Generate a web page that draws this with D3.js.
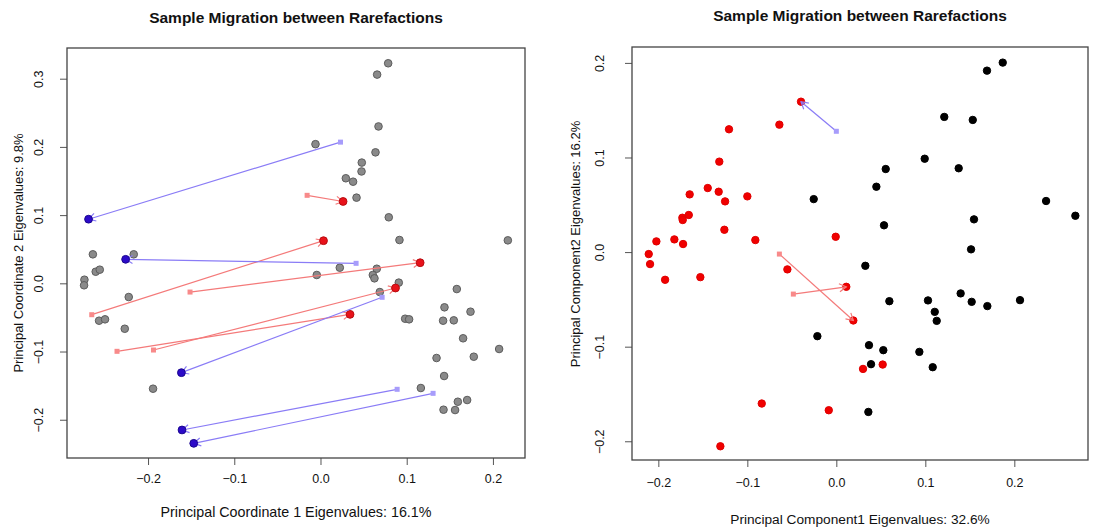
<!DOCTYPE html>
<html>
<head>
<meta charset="utf-8">
<script src="https://cdn.jsdelivr.net/npm/d3@7"></script>
<style>
  body { margin: 0; background: #fff; }
  svg text { font-family: "Liberation Sans", Arial, Helvetica, sans-serif; fill: #111; }
</style>
</head>
<body>
<div id="chart"></div>
<script>
// Left panel: PCoA (gray samples, red / blue migration arrows)
var pcoaGrayX = [-0.0058, -0.264, -0.2166, 0.0785, 0.0657, 0.0673, 0.0638, 0.0479, 0.0476, 0.0294,
  0.0378, 0.0418, 0.0792, 0.0916, 0.2173, -0.2607, -0.256, -0.2738, -0.2742, -0.2224,
  -0.0043, -0.2568, -0.2499, -0.227, -0.1942, 0.0224, 0.0653, 0.0607, 0.0626, 0.0908,
  0.0688, 0.1581, 0.1438, 0.174, 0.0982, 0.1028, 0.1422, 0.1546, 0.1654, 0.2072,
  0.1346, 0.1778, 0.1434, 0.1164, 0.1701, 0.1593, 0.1427, 0.1561];
var pcoaGrayY = [0.204, 0.0425, 0.0425, 0.3226, 0.306, 0.230, 0.192, 0.177, 0.164, 0.154,
  0.149, 0.1256, 0.0968, 0.0635, 0.063, 0.017, 0.020, 0.0053, -0.0029, -0.0201,
  0.0122, -0.0548, -0.0528, -0.0666, -0.1545, 0.0229, 0.0214, 0.0122, 0.0073, 0.001,
  -0.0128, -0.0084, -0.0352, -0.0416, -0.0519, -0.0528, -0.0548, -0.0543, -0.0806, -0.0963,
  -0.1095, -0.1076, -0.1359, -0.1535, -0.1711, -0.1736, -0.1853, -0.1858];

var pcoaRedFromX = [-0.2653, -0.1513, -0.236, -0.1937, -0.0155];
var pcoaRedFromY = [-0.046, -0.0128, -0.0997, -0.0978, 0.129];
var pcoaRedToX = [0.0035, 0.1156, 0.0343, 0.087, 0.0262];
var pcoaRedToY = [0.0625, 0.0302, -0.0455, -0.0069, 0.120];

var pcoaBlueFromX = [0.0232, 0.0413, 0.0715, 0.0889, 0.1306];
var pcoaBlueFromY = [0.207, 0.0293, -0.0205, -0.1554, -0.1613];
var pcoaBlueToX = [-0.269, -0.226, -0.1613, -0.1606, -0.147];
var pcoaBlueToY = [0.094, 0.0352, -0.131, -0.215, -0.2346];

// Right panel: PCA (black / red samples, arrows)
var pcaBlackX = [0.187, 0.1693, 0.1213, 0.1533, 0.0993, 0.0555, 0.1375, 0.045, 0.2357, 0.2686,
  0.1547, 0.0536, 0.1514, 0.0326, 0.0596, 0.103, 0.1397, 0.1521, 0.1697, 0.2064,
  0.1106, 0.1128, 0.0367, 0.0528, 0.0933, 0.039, 0.1083, 0.036, -0.0254, -0.0213];
var pcaBlackY = [0.2003, 0.1918, 0.1429, 0.1397, 0.0987, 0.0878, 0.0886, 0.0691, 0.054, 0.0384,
  0.0346, 0.0283, 0.0029, -0.0145, -0.0519, -0.0511, -0.0437, -0.0526, -0.0571, -0.0508,
  -0.0632, -0.0727, -0.0984, -0.1037, -0.1055, -0.1185, -0.1217, -0.169, 0.056, -0.0889];

var pcaRedX = [-0.0397, -0.064, -0.1206, -0.1315, -0.1445, -0.1322, -0.1648, -0.125, -0.1, -0.1658,
  -0.173, -0.1726, -0.1258, -0.2022, -0.182, -0.1722, -0.091, -0.0007, -0.2108, -0.2093,
  -0.1924, -0.1528, -0.055, 0.0191, 0.0112, -0.0838, -0.0085, -0.1303, 0.0521, 0.03];
var pcaRedY = [0.159, 0.1347, 0.1298, 0.0956, 0.0677, 0.0638, 0.061, 0.0536, 0.0589, 0.0392,
  0.0363, 0.0339, 0.0236, 0.0113, 0.0134, 0.0085, 0.0127, 0.0162, -0.0021, -0.0127,
  -0.0293, -0.0265, -0.0183, -0.0723, -0.0367, -0.1601, -0.1672, -0.2053, -0.1189, -0.1235];

var pcaRedFromX = [-0.064, -0.0483];
var pcaRedFromY = [-0.0021, -0.0444];
var pcaRedToX = [0.0191, 0.0112];
var pcaRedToY = [-0.0723, -0.0367];

var pcaBlueFromX = [0.0];
var pcaBlueFromY = [0.1277];
var pcaBlueToX = [-0.0397];
var pcaBlueToY = [0.159];

var TICKS_X = [-0.2, -0.1, 0.0, 0.1, 0.2];
var TICKS_Y_LEFT = [-0.2, -0.1, 0.0, 0.1, 0.2, 0.3];
var TICKS_Y_RIGHT = [-0.2, -0.1, 0.0, 0.1, 0.2];

var TITLE = "Sample Migration between Rarefactions";

var svg = d3.select("#chart").append("svg")
  .attr("width", 1097)
  .attr("height", 527);

function zipPts(xs, ys) {
  return xs.map(function (x, i) { return { x: x, y: ys[i] }; });
}
function zipArrows(fx, fy, tx, ty) {
  return fx.map(function (x, i) { return { x0: x, y0: fy[i], x1: tx[i], y1: ty[i] }; });
}

// Draws one panel: box, axes, labels and the marks
function drawPanel(cfg) {
  var x = d3.scaleLinear().domain(cfg.xDomain).range([cfg.left, cfg.right]);
  var y = d3.scaleLinear().domain(cfg.yDomain).range([cfg.bottom, cfg.top]);
  var g = svg.append("g");

  // title
  g.append("text")
    .attr("x", (cfg.left + cfg.right) / 2)
    .attr("y", cfg.titleY)
    .attr("text-anchor", "middle")
    .style("font-size", "15.5px")
    .style("font-weight", "bold")
    .text(TITLE);

  // bottom axis
  var xAxis = d3.axisBottom(x).tickValues(TICKS_X).tickSize(7).tickPadding(9)
    .tickFormat(d3.format(".1f"));
  var gx = g.append("g").attr("transform", "translate(0," + cfg.bottom + ")").call(xAxis);
  gx.select(".domain").remove();
  gx.selectAll("line").attr("stroke", "#555");
  gx.selectAll("text").style("font-size", "12.5px").attr("fill", "#222")
    .attr("transform", "translate(0," + cfg.xTickShift + ")");

  // left axis, labels rotated like base R graphics
  var yAxis = d3.axisLeft(y).tickValues(cfg.yTicks).tickSize(7).tickFormat(d3.format(".1f"));
  var gy = g.append("g").attr("transform", "translate(" + cfg.left + ",0)").call(yAxis);
  gy.select(".domain").remove();
  gy.selectAll("line").attr("stroke", "#555");
  gy.selectAll("text")
    .style("font-size", "12.5px")
    .attr("fill", "#222")
    .attr("x", null).attr("dy", null)
    .attr("text-anchor", "middle")
    .attr("transform", "translate(" + (-cfg.left + cfg.yTickX) + ",0) rotate(-90)")
    .attr("y", 0);

  // axis titles
  g.append("text")
    .attr("x", (cfg.left + cfg.right) / 2)
    .attr("y", cfg.xLabelY)
    .attr("text-anchor", "middle")
    .style("font-size", cfg.xLabelSize)
    .text(cfg.xLabel);
  g.append("text")
    .attr("transform", "translate(" + cfg.yLabelX + "," + cfg.yLabelCY + ") rotate(-90)")
    .attr("text-anchor", "middle")
    .style("font-size", "13px")
    .text(cfg.yLabel);

  // box
  g.append("rect")
    .attr("x", cfg.left).attr("y", cfg.top)
    .attr("width", cfg.right - cfg.left).attr("height", cfg.bottom - cfg.top)
    .attr("fill", "none").attr("stroke", "#444").attr("stroke-width", 1.3);

  var marks = g.append("g");

  // plain points
  cfg.points.forEach(function (set) {
    marks.selectAll(null)
      .data(set.data)
      .enter()
      .append("circle")
      .attr("cx", function (d) { return x(d.x); })
      .attr("cy", function (d) { return y(d.y); })
      .attr("r", set.r)
      .attr("fill", set.fill)
      .attr("stroke", set.stroke)
      .attr("stroke-width", 1);
  });

  // arrows: square at start, open head + circle at end
  cfg.arrows.forEach(function (set) {
    var a = marks.selectAll(null).data(set.data).enter().append("g");
    a.append("line")
      .attr("x1", function (d) { return x(d.x0); })
      .attr("y1", function (d) { return y(d.y0); })
      .attr("x2", function (d) { return x(d.x1); })
      .attr("y2", function (d) { return y(d.y1); })
      .attr("stroke", set.line).attr("stroke-width", 1.2);
    a.append("path")
      .attr("d", function (d) {
        var X1 = x(d.x1), Y1 = y(d.y1);
        var ang = Math.atan2(Y1 - y(d.y0), X1 - x(d.x0));
        var L = 8, spread = Math.PI / 6;
        var p1 = [X1 - L * Math.cos(ang - spread), Y1 - L * Math.sin(ang - spread)];
        var p2 = [X1 - L * Math.cos(ang + spread), Y1 - L * Math.sin(ang + spread)];
        return "M" + p1 + "L" + X1 + "," + Y1 + "L" + p2;
      })
      .attr("fill", "none").attr("stroke", set.line).attr("stroke-width", 1.2);
    a.append("rect")
      .attr("x", function (d) { return x(d.x0) - 2.5; })
      .attr("y", function (d) { return y(d.y0) - 2.5; })
      .attr("width", 5).attr("height", 5)
      .attr("fill", set.square);
    if (set.endFill) {
      a.append("circle")
        .attr("cx", function (d) { return x(d.x1); })
        .attr("cy", function (d) { return y(d.y1); })
        .attr("r", set.r)
        .attr("fill", set.endFill)
        .attr("stroke", set.endStroke);
    }
  });
}

drawPanel({
  left: 67, right: 525, top: 48, bottom: 458,
  xDomain: [-0.294, 0.2372], yDomain: [-0.2561, 0.345],
  yTicks: TICKS_Y_LEFT,
  titleY: 23, xTickShift: 0, yTickX: 43,
  xLabel: "Principal Coordinate 1 Eigenvalues: 16.1%", xLabelY: 517, xLabelSize: "14.3px",
  yLabel: "Principal Coordinate 2 Eigenvalues: 9.8%", yLabelX: 23, yLabelCY: 253,
  points: [
    { data: zipPts(pcoaGrayX, pcoaGrayY), r: 3.8, fill: "#8a8a8a", stroke: "#5c5c5c" }
  ],
  arrows: [
    { data: zipArrows(pcoaRedFromX, pcoaRedFromY, pcoaRedToX, pcoaRedToY),
      line: "#f47a7a", square: "#f88a8a", r: 3.9, endFill: "#e8121a", endStroke: "#b80c10" },
    { data: zipArrows(pcoaBlueFromX, pcoaBlueFromY, pcoaBlueToX, pcoaBlueToY),
      line: "#8a7cf6", square: "#a79cfb", r: 3.9, endFill: "#2c0ac8", endStroke: "#1a0690" }
  ]
});

drawPanel({
  left: 632, right: 1088, top: 47, bottom: 460,
  xDomain: [-0.2296, 0.2828], yDomain: [-0.2198, 0.2168],
  yTicks: TICKS_Y_RIGHT,
  titleY: 21, xTickShift: 2, yTickX: 604,
  xLabel: "Principal Component1 Eigenvalues: 32.6%", xLabelY: 524, xLabelSize: "13.7px",
  yLabel: "Principal Component2 Eigenvalues: 16.2%", yLabelX: 580, yLabelCY: 244,
  points: [
    { data: zipPts(pcaBlackX, pcaBlackY), r: 3.7, fill: "#000", stroke: "#000" },
    { data: zipPts(pcaRedX, pcaRedY), r: 3.7, fill: "#f00000", stroke: "#e00000" }
  ],
  arrows: [
    { data: zipArrows(pcaRedFromX, pcaRedFromY, pcaRedToX, pcaRedToY),
      line: "#f47a7a", square: "#f88a8a" },
    { data: zipArrows(pcaBlueFromX, pcaBlueFromY, pcaBlueToX, pcaBlueToY),
      line: "#8a7cf6", square: "#a79cfb" }
  ]
});
</script>
</body>
</html>
